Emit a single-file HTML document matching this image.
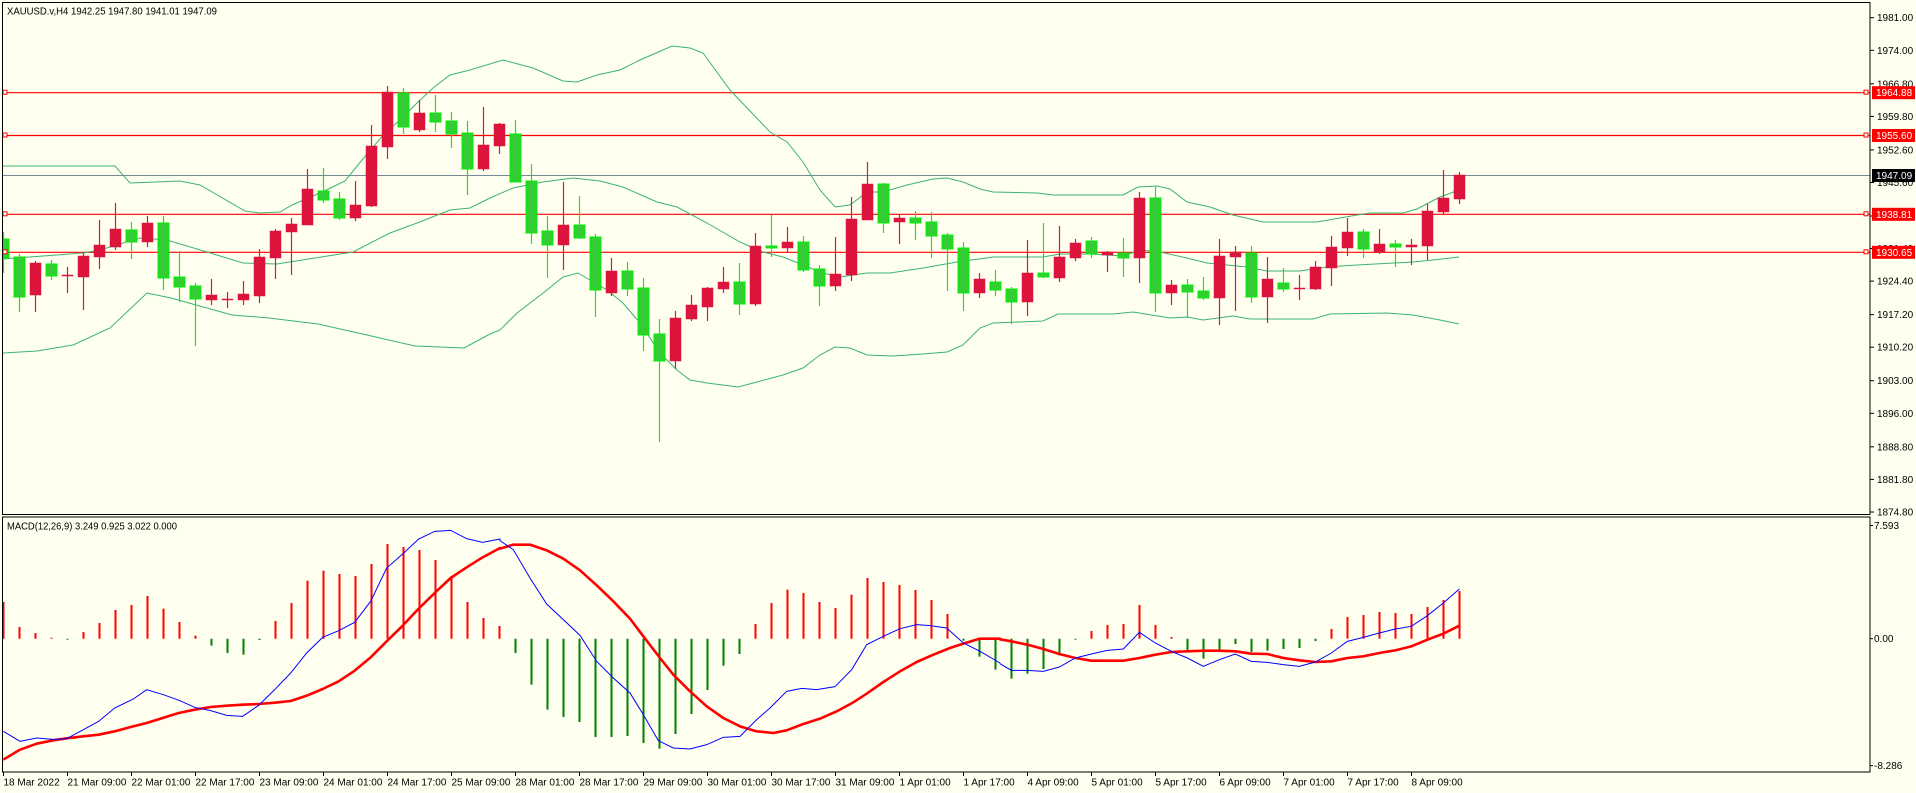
<!DOCTYPE html>
<html><head><meta charset="utf-8"><style>
html,body{margin:0;padding:0;background:#FFFFF0;}
svg{display:block;font-family:"Liberation Sans",sans-serif;}
</style></head><body>
<svg id="c" width="1916" height="793" viewBox="0 0 1916 793" xmlns="http://www.w3.org/2000/svg">
<rect x="0" y="0" width="1916" height="793" fill="#FFFFF0"/>
<defs>
<clipPath id="cm"><rect x="3" y="3" width="1867" height="511"/></clipPath>
<clipPath id="cd"><rect x="3" y="518" width="1867" height="254"/></clipPath>
</defs>
<g id="main" clip-path="url(#cm)"></g>
<g id="macd" clip-path="url(#cd)"></g>
<g id="ax"></g>
</svg>
<script>
const NS="http://www.w3.org/2000/svg";
function el(p,t,a,txt){const e=document.createElementNS(NS,t);for(const k in a)e.setAttribute(k,a[k]);if(txt!==undefined)e.textContent=txt;p.appendChild(e);return e;}
const M=document.getElementById('main'),D=document.getElementById('macd'),A=document.getElementById('ax');
const pts=a=>a.map(p=>p[0]+','+p[1]).join(' ');
[92.7,135.5,214.3,252.3].forEach(y=>{el(M,'line',{x1:0,x2:1870,y1:y,y2:y,stroke:'#FF0000','stroke-width':1.2});
 el(A,'rect',{x:3,y:y-2.5,width:4,height:4,fill:'#FFFFF0',stroke:'#FF0000','stroke-width':1});
 el(A,'rect',{x:1864,y:y-2.5,width:4,height:4,fill:'#FFFFF0',stroke:'#FF0000','stroke-width':1});});
el(M,'line',{x1:0,x2:1870,y1:175.5,y2:175.5,stroke:'#778899','stroke-width':1});
const up=[[3,166],[115,166],[130,183],[180,181],[200,185],[245,211],[260,213],[280,212],[292,205],[320,193],[345,181],[362,160],[385,133],[400,120],[417,103],[433,88],[450,75],[470,70],[503,60],[533,68],[563,81],[577,82],[597,75],[620,70],[640,60],[672,46],[690,48],[703,53],[730,90],[770,132],[787,142],[803,162],[820,190],[835,207],[850,205],[867,192],[883,192],[907,185],[933,179],[947,178],[963,182],[980,189],[993,192],[1037,193],[1053,195],[1123,195],[1138,187],[1157,186],[1170,189],[1187,202],[1210,207],[1233,215],[1263,222],[1317,222],[1357,215],[1370,213],[1403,213],[1417,209],[1440,197],[1459,190]];
const mid=[[3,259],[83,253],[100,250],[140,238],[167,240],[207,252],[243,263],[277,264],[353,252],[390,233],[417,223],[450,210],[470,208],[490,198],[513,188],[543,182],[573,178],[600,181],[623,187],[657,202],[677,207],[707,223],[740,242],[763,252],[783,257],[803,265],[823,273],[840,277],[867,273],[890,273],[923,268],[957,262],[993,257],[1043,257],[1060,254],[1090,254],[1123,256],[1140,250],[1160,252],[1187,258],[1207,263],[1247,267],[1267,271],[1300,271],[1327,267],[1357,265],[1413,262],[1433,260],[1459,257]];
const lo=[[3,353],[37,351],[73,345],[110,328],[147,293],[171,298],[232,315],[269,318],[318,324],[367,335],[415,346],[464,348],[490,334],[500,330],[517,313],[547,290],[563,277],[578,273],[590,280],[607,290],[623,303],[640,323],[660,353],[677,370],[690,380],[707,383],[738,387],[757,382],[783,375],[803,368],[820,355],[835,347],[850,348],[867,355],[893,356],[923,354],[947,352],[963,345],[980,328],[993,323],[1043,321],[1058,314],[1113,314],[1133,312],[1170,318],[1187,317],[1203,320],[1233,316],[1250,319],[1313,319],[1330,314],[1387,313],[1413,315],[1440,320],[1459,324]];
[up,mid,lo].forEach(a=>el(M,'polyline',{points:pts(a),fill:'none',stroke:'#3CB371','stroke-width':1}));
const C=[['g',239,258,232,273],['g',257,297,254,312],['r',263,295,261,312],['g',264,276,260,280],['r',275,276,267,293],['r',256,277,253,310],['r',245,257,220,269],['r',229,247,203,250],['g',230,242,222,259],['r',223,242,216,247],
['g',223,278,216,290],['g',277,287,251,302],['g',286,299,283,346],['r',295,300,279,305],['r',299,300,292,308],['r',294,300,281,305],['r',257,296,249,303],['r',231,258,229,279],['r',224,232,218,275],['r',189,225,169,225],
['g',191,200,168,203],['g',199,218,192,220],['r',205,218,181,221],['r',146,206,125,207],['r',92,147,86,159],['g',93,127,88,134],['r',113,130,100,132],['g',113,122,95,132],['g',121,134,112,148],['g',133,169,121,195],
['r',145,169,107,171],['r',124,146,123,154],['g',134,182,120,182],['g',181,233,164,244],['g',231,245,216,278],['r',225,245,182,270],['g',225,238,196,239],['g',237,290,234,317],['r',271,293,258,296],['g',271,289,262,296],
['g',288,335,278,351],['g',334,361,319,442],['r',318,361,311,369],['r',305,319,295,321],['r',288,307,287,321],['r',282,289,267,293],['g',282,304,263,315],['r',246,304,233,306],['g',246,248,215,257],['r',242,248,227,252],
['g',242,270,236,272],['g',269,286,265,306],['r',274,286,237,291],['r',219,275,197,281],['r',184,220,162,220],['g',184,223,183,233],['r',218,222,215,244],['g',218,223,211,240],['g',222,236,212,258],['g',235,249,233,291],
['g',248,293,242,311],['r',279,293,273,298],['g',282,290,270,296],['g',289,302,287,324],['r',273,302,240,316],['g',273,277,223,278],['r',257,278,226,282],['r',243,258,239,261],['g',241,254,237,258],['r',252,255,251,272],
['g',253,258,238,277],['r',198,258,192,283],['g',198,293,187,312],['r',285,293,280,305],['g',285,292,279,318],['g',291,298,277,300],['r',256,298,239,325],['r',252,257,246,311],['g',253,297,246,303],['r',279,297,257,323],
['g',283,289,268,292],['r',288,289,275,300],['r',267,289,261,290],['r',247,268,236,286],['r',232,248,218,256],['g',232,249,229,258],['r',244,252,229,254],['g',244,247,240,267],['r',245,247,239,265],['r',211,246,204,260],
['r',198,212,170,214],['r',175,199,172,204]];
C.forEach((c,i)=>{const x=3.5+16*i;const g=c[0]=='g';
 el(M,'line',{x1:x,x2:x,y1:c[3],y2:c[4],stroke:g?'#22E022':'#DC143C','stroke-width':1.2});
 const h=Math.max(c[2]-c[1],1);
 el(M,'rect',{x:x-5.5,y:c[1],width:11,height:h,fill:g?'#32CD32':'#DC143C',stroke:g?'#00F000':'#DC143C','stroke-width':g?1:0.5});});
const Z=638.7;
const H=[252,327,345,359,365,342,315,276,261,234,272,312,353,383,405,410,366,309,255,188,158,168,174,138,78,87,96,126,174,252,300,324,
405,500,575,597,612,657,657,654,675,692,648,588,516,443,408,318,255,215,225,252,270,230,180,192,201,216,246,288,368,416,455,
482,467,453,412,364,339,321,318,261,321,357,396,422,400,378,402,398,393,390,369,333,297,291,282,285,288,267,246,219];
H.forEach((v,i)=>{const y=518+v/3;const x=3.5+16*i;const neg=y>Z;
 el(D,'rect',{x:x-1,y:Math.min(y,Z),width:2,height:Math.max(Math.abs(y-Z),1),fill:neg?'#008000':'#FF0000'});});
const cv=(a,o)=>a.map(p=>[o+p[0]/3,518+p[1]/3]);
const b6=[[10,640],[60,670],[110,660],[160,664],[200,662],[250,635],[296,610],[344,570],[400,543],[440,515],[490,530],[540,548],[584,568],[632,578],[680,592],[728,595],[776,562],[824,515],[872,465],[920,405],[968,358],[1016,338],[1064,313],[1112,250],[1160,150],[1208,108],[1256,63],[1304,40],[1352,37],[1400,62],[1448,73],[1500,63]];
const b7=[[0,68],[40,95],[90,180],[140,258],[190,305],[240,352],[290,430],[340,480],[390,525],[430,590],[475,668],[520,690],[570,693],[620,680],[670,658],[720,655],[770,605],[810,570],[860,520],[905,511],[950,515],[1005,506],[1055,455],[1100,380],[1150,355],[1200,332],[1250,320],[1290,323],[1340,330],[1390,375],[1440,400],[1500,435]];
const b8=[[0,437],[34,457],[82,457],[130,460],[178,447],[226,420],[274,408],[322,397],[370,393],[418,343],[466,375],[514,400],[562,420],[610,445],[658,425],[706,408],[754,430],[802,433],[850,440],[898,445],[946,432],[994,405],[1042,370],[1090,358],[1138,345],[1186,333],[1234,325],[1282,293],[1330,255],[1378,213]];
const r6=[[10,725],[60,695],[110,677],[160,667],[200,661],[250,655],[296,650],[344,640],[392,627],[440,615],[488,600],[536,585],[584,575],[632,567],[680,563],[728,560],[776,558],[824,554],[872,549],[920,533],[968,513],[1016,490],[1064,458],[1112,418],[1160,370],[1208,323],[1256,272],[1304,225],[1352,180],[1400,148],[1448,118],[1500,90]];
const r7=[[0,92],[40,80],[90,80],[140,97],[190,122],[240,157],[290,202],[340,250],[390,302],[430,355],[480,420],[520,470],[570,520],[620,565],[670,600],[720,625],[770,640],[820,645],[860,637],[910,618],[960,602],[1010,580],[1060,553],[1100,527],[1150,492],[1200,460],[1250,432],[1300,410],[1350,390],[1390,377],[1440,362],[1500,362]];
const r8=[[0,364],[34,370],[82,380],[130,393],[178,408],[226,420],[274,428],[322,428],[370,428],[418,420],[466,410],[514,402],[562,400],[610,398],[658,398],[706,400],[754,407],[802,408],[850,420],[898,427],[946,432],[994,430],[1042,420],[1090,415],[1138,405],[1186,397],[1234,385],[1282,365],[1330,347],[1378,323]];
el(D,'polyline',{points:pts([...cv(r6,0),...cv(r7,500),...cv(r8,1000)]),fill:'none',stroke:'#FF0000','stroke-width':2.6,'stroke-linejoin':'round'});
el(D,'polyline',{points:pts([...cv(b6,0),...cv(b7,500),...cv(b8,1000)]),fill:'none',stroke:'#0000FF','stroke-width':1});
el(A,'rect',{x:2.5,y:2.5,width:1867.5,height:512,fill:'none',stroke:'#000','stroke-width':1});
el(A,'rect',{x:2.5,y:517,width:1867.5,height:255,fill:'none',stroke:'#000','stroke-width':1});
const lab=[[1981.00,17.7],[1974.00,50.3],[1966.80,83.8],[1959.80,116.4],[1952.60,149.9],[1945.60,182.5],[1938.40,216],[1931.40,248.5],[1924.40,281.1],[1917.20,314.6],[1910.20,347.2],[1903.00,380.7],[1896.00,413.3],[1888.80,446.8],[1881.80,479.4],[1874.80,512]];
lab.forEach(l=>{el(A,'line',{x1:1870,x2:1874,y1:l[1],y2:l[1],stroke:'#000'});el(A,'text',{x:1877,y:l[1]+3.5,'font-size':10,fill:'#000'},l[0].toFixed(2));});
[[1964.88,92.7,'#FF0000'],[1955.60,135.5,'#FF0000'],[1947.09,175.5,'#000000'],[1938.81,214.3,'#FF0000'],[1930.65,252.3,'#FF0000']].forEach(b=>{
 el(A,'rect',{x:1872,y:b[1]-6.5,width:43,height:13,fill:b[2]});
 el(A,'text',{x:1876,y:b[1]+3.5,'font-size':10,fill:'#fff'},b[0].toFixed(2));});
[[7.593,525.5,'7.593'],[0,638.7,'0.00'],[0,765.7,'-8.286']].forEach(l=>{el(A,'line',{x1:1870,x2:1873,y1:l[1],y2:l[1],stroke:'#000'});el(A,'text',{x:1874,y:l[1]+3.5,'font-size':10,fill:'#000'},l[2]);});
const T=['18 Mar 2022','21 Mar 09:00','22 Mar 01:00','22 Mar 17:00','23 Mar 09:00','24 Mar 01:00','24 Mar 17:00','25 Mar 09:00','28 Mar 01:00','28 Mar 17:00','29 Mar 09:00','30 Mar 01:00','30 Mar 17:00','31 Mar 09:00','1 Apr 01:00','1 Apr 17:00','4 Apr 09:00','5 Apr 01:00','5 Apr 17:00','6 Apr 09:00','7 Apr 01:00','7 Apr 17:00','8 Apr 09:00'];
T.forEach((t,k)=>{const x=3.5+64*k;el(A,'line',{x1:x,x2:x,y1:772,y2:776,stroke:'#000'});el(A,'text',{x:x,y:785.5,'font-size':10,fill:'#000'},t);});
el(A,'text',{x:7,y:14.5,'font-size':10.5,fill:'#000',textLength:210,lengthAdjust:'spacingAndGlyphs'},'XAUUSD.v,H4  1942.25 1947.80 1941.01 1947.09');
el(A,'text',{x:7,y:529.5,'font-size':10.5,fill:'#000',textLength:170,lengthAdjust:'spacingAndGlyphs'},'MACD(12,26,9) 3.249 0.925 3.022 0.000');
</script>
</body></html>
